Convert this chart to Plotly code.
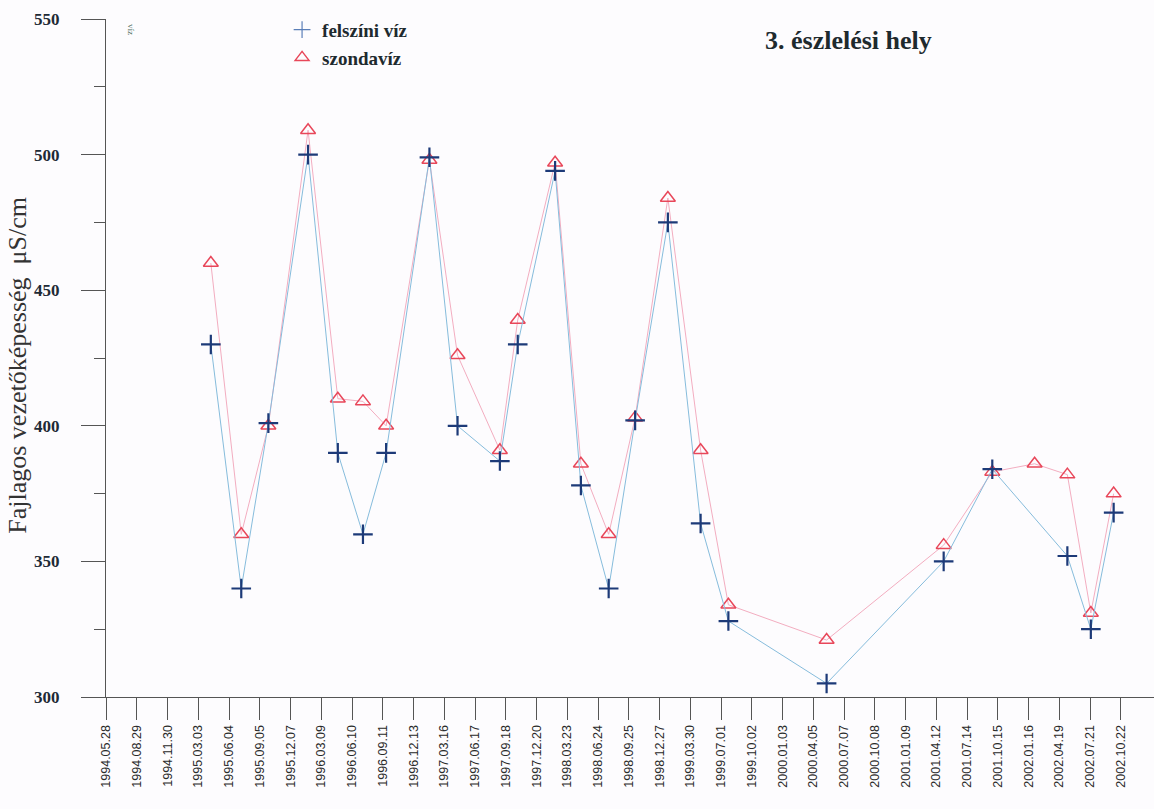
import datetime as dt
import plotly.graph_objects as go

# Sampling dates (shared by both series)
dates = ["1995-04-10", "1995-07-11", "1995-10-01", "1996-01-29", "1996-04-28",
         "1996-07-13", "1996-09-21", "1997-01-30", "1997-04-25", "1997-08-31",
         "1997-10-24", "1998-02-14", "1998-05-03", "1998-07-26", "1998-10-14",
         "1999-01-21", "1999-04-30", "1999-07-23", "2000-05-15", "2001-05-04",
         "2001-09-28", "2002-02-03", "2002-05-13", "2002-07-23", "2002-09-30"]

# Specific conductance, µS/cm
felszini_viz = [430, 340, 401, 500, 390, 360, 390, 499, 400, 387,
                430, 494, 378, 340, 402, 475, 364, 328, 305, 350,
                384, None, 352, 325, 368]
szondaviz = [460, 360, 400, 509, 410, 409, 400, 498, 426, 391,
             439, 497, 386, 360, 403, 484, 391, 334, 321, 356,
             383, 386, 382, 331, 375]

# Quarterly tick labels on the date axis
tick_labels = ["1994.05.28", "1994.08.29", "1994.11.30", "1995.03.03", "1995.06.04",
               "1995.09.05", "1995.12.07", "1996.03.09", "1996.06.10", "1996.09.11",
               "1996.12.13", "1997.03.16", "1997.06.17", "1997.09.18", "1997.12.20",
               "1998.03.23", "1998.06.24", "1998.09.25", "1998.12.27", "1999.03.30",
               "1999.07.01", "1999.10.02", "2000.01.03", "2000.04.05", "2000.07.07",
               "2000.10.08", "2001.01.09", "2001.04.12", "2001.07.14", "2001.10.15",
               "2002.01.16", "2002.04.19", "2002.07.21", "2002.10.22"]
tick_vals = [dt.datetime.strptime(t, "%Y.%m.%d").strftime("%Y-%m-%d") for t in tick_labels]

BLUE_LINE = "#86bcdc"
BLUE_MARK = "#1d3a78"
PINK_LINE = "#f3adc0"
RED_MARK = "#e8475a"
SERIF = "Liberation Serif"

fig = go.Figure()

fig.add_trace(go.Scatter(
    x=dates, y=szondaviz, mode="lines+markers", name="szondavíz",
    showlegend=False,
    line=dict(color=PINK_LINE, width=1),
    marker=dict(symbol="triangle-up-open", size=13, color=RED_MARK,
                line=dict(color=RED_MARK, width=1.5)),
))
fig.add_trace(go.Scatter(
    x=dates, y=felszini_viz, mode="lines+markers", name="felszíni víz",
    showlegend=False, connectgaps=True,
    line=dict(color=BLUE_LINE, width=1),
    marker=dict(symbol="cross-thin-open", size=14, color=BLUE_MARK,
                line=dict(color=BLUE_MARK, width=2.2)),
))

# Legend entries show only the symbols
fig.add_trace(go.Scatter(
    x=[None], y=[None], mode="markers", name="<b>felszíni víz</b>",
    marker=dict(symbol="cross-thin-open", size=12, color="#5b7fb8",
                line=dict(color="#5b7fb8", width=1.2)),
))
fig.add_trace(go.Scatter(
    x=[None], y=[None], mode="markers", name="<b>szondavíz</b>",
    marker=dict(symbol="triangle-up-open", size=12, color=RED_MARK,
                line=dict(color=RED_MARK, width=1.5)),
))

fig.update_layout(
    width=1154, height=809,
    margin=dict(l=106, r=0, t=19, b=112),
    paper_bgcolor="#fdfcfe",
    plot_bgcolor="#fdfcfe",
    font=dict(family=SERIF, color="#1e2a36"),
    legend=dict(
        x=0.168, y=1.012, xanchor="left", yanchor="top",
        bgcolor="rgba(0,0,0,0)", borderwidth=0,
        font=dict(family=SERIF, size=19, color="#1e2a2e"),
        itemwidth=30, tracegroupgap=0,
    ),
    xaxis=dict(
        type="date",
        range=["1994-05-28", "2003-01-30"],
        tickmode="array", tickvals=tick_vals, ticktext=tick_labels,
        tickangle=-90,
        tickfont=dict(family="Liberation Sans", size=12.5, color="#2a2a2a"),
        ticks="outside", ticklen=22, tickcolor="#555555", tickwidth=1,
        showline=True, linecolor="#555555", linewidth=1.2,
        showgrid=False, zeroline=False,
    ),
    yaxis=dict(
        range=[300, 550],
        tickvals=[300, 350, 400, 450, 500, 550],
        tickfont=dict(family=SERIF, size=17, color="#1e2a36", weight="bold"),
        ticks="outside", ticklen=24, tickcolor="#555555", tickwidth=1,
        ticklabelstandoff=18,
        minor=dict(tickvals=[325, 375, 425, 475, 525], ticks="outside",
                   ticklen=11, tickcolor="#555555", tickwidth=1),
        showline=True, linecolor="#555555", linewidth=1.2,
        showgrid=False, zeroline=False,
    ),
    annotations=[
        # y-axis title
        dict(text="Fajlagos vezetőképesség\u00a0\u00a0μS/cm", xref="paper", yref="paper",
             x=-0.084, y=0.49, xanchor="center", yanchor="middle", showarrow=False,
             textangle=-90, font=dict(family=SERIF, size=26, color="#333333")),
        dict(text="<b>3. észlelési hely</b>", xref="paper", yref="paper",
             x=0.627, y=0.969, xanchor="left", yanchor="middle", showarrow=False,
             font=dict(family=SERIF, size=26, color="#1e2a2e")),
        dict(text="víz", xref="paper", yref="paper",
             x=0.024, y=0.985, xanchor="center", yanchor="middle", showarrow=False,
             textangle=90, font=dict(family=SERIF, size=9, color="#4a6a5a")),
    ],
)

fig.write_html("out.html")
